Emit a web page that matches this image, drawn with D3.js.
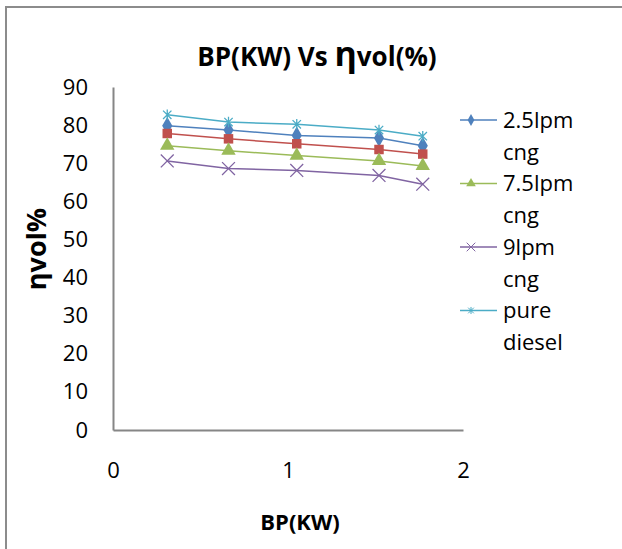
<!DOCTYPE html>
<html>
<head>
<meta charset="utf-8">
<script src="https://cdn.jsdelivr.net/npm/d3@7"></script>
<style>
  body { margin: 0; background: #fff; overflow: hidden; }
  svg { display: block; }
  text { font-family: "Open Sans", sans-serif; fill: #000; }
</style>
</head>
<body>
<svg width="622" height="549"></svg>
<script>
// BP (kW) at each load step
var bp = [0.31, 0.66, 1.05, 1.52, 1.77];

var seriesNames = ["2.5lpm cng", "5lpm cng", "7.5lpm cng", "9lpm cng", "pure diesel"];
var lpm25 = [79.8, 78.7, 77.3, 76.6, 74.6];
var lpm5 = [77.8, 76.4, 75.1, 73.6, 72.4];
var lpm75 = [74.6, 73.3, 72.0, 70.6, 69.3];
var lpm9 = [70.6, 68.6, 68.1, 66.8, 64.5];
var diesel = [82.7, 80.8, 80.2, 78.7, 77.1];

// legend in the original only lists four of the five series
var legendNames = [["2.5lpm", "cng"], ["7.5lpm", "cng"], ["9lpm", "cng"], ["pure", "diesel"]];
var legendIdx = [0, 2, 3, 4];

var xTicks = [0, 1, 2];
var yTicks = [0, 10, 20, 30, 40, 50, 60, 70, 80, 90];

var colors = ["#4F81BD", "#C0504D", "#9BBB59", "#8064A2", "#4BACC6"];

// excel style star: an x with a vertical bar
var symbolStar = {
  draw: function(context, size) {
    var r = Math.sqrt(size) / 2, a = r * 0.8;
    context.moveTo(-a, -a); context.lineTo(a, a);
    context.moveTo(-a, a); context.lineTo(a, -a);
    context.moveTo(0, -r); context.lineTo(0, r);
  }
};
var symbols = [d3.symbolDiamond, d3.symbolSquare, d3.symbolTriangle, d3.symbolTimes, symbolStar];
var hollow = [false, false, false, true, true];

var svg = d3.select("svg");

// chart frame: only the top and left edges fall inside the picture
svg.append("path")
  .attr("d", "M6,549V7H622")
  .attr("fill", "none")
  .attr("stroke", "#8c8c8c")
  .attr("stroke-width", 2);

var x = d3.scaleLinear().domain([0, 2]).range([113, 463]);
var y = d3.scaleLinear().domain([0, 90]).range([430, 87]);

var data = [lpm25, lpm5, lpm75, lpm9, diesel].map(function(vals, i) {
  return {name: seriesNames[i], values: vals.map(function(v, j) { return {x: bp[j], y: v}; })};
});

// axes
svg.append("g")
  .attr("transform", "translate(0,430)")
  .call(d3.axisBottom(x).tickValues(xTicks).tickSize(0).tickPadding(32).tickFormat(d3.format("d")))
  .call(function(g) {
    g.select(".domain").attr("stroke", "#868686").attr("stroke-width", 2);
    g.selectAll("text").attr("font-size", 22).attr("font-family", "Open Sans");
  });

svg.append("g")
  .attr("transform", "translate(113,0)")
  .call(d3.axisLeft(y).tickValues(yTicks).tickSize(0).tickPadding(25))
  .call(function(g) {
    g.select(".domain").attr("stroke", "#868686").attr("stroke-width", 2);
    g.selectAll("text").attr("font-size", 22).attr("font-family", "Open Sans");
  });

var line = d3.line()
  .x(function(d) { return x(d.x); })
  .y(function(d) { return y(d.y); });

var series = svg.append("g").selectAll("g")
  .data(data)
  .enter().append("g");

series.append("path")
  .attr("d", function(d) { return line(d.values); })
  .attr("fill", "none")
  .attr("stroke", function(d, i) { return colors[i]; })
  .attr("stroke-width", 1.5);

series.each(function(s, i) {
  var sym = d3.symbol().type(symbols[i]).size(hollow[i] ? 110 : 90);
  d3.select(this).selectAll(".pt")
    .data(s.values)
    .enter().append("path")
      .attr("class", "pt")
      .attr("transform", function(d) { return "translate(" + x(d.x) + "," + y(d.y) + ")"; })
      .attr("d", sym)
      .attr("fill", hollow[i] ? "none" : colors[i])
      .attr("stroke", colors[i])
      .attr("stroke-width", hollow[i] ? 1.3 : 0);
});

// legend
var legend = svg.append("g").selectAll("g")
  .data(legendIdx)
  .enter().append("g")
    .attr("transform", function(d, k) { return "translate(460," + (120 + k * 63.5) + ")"; });

legend.append("line")
  .attr("x1", 0).attr("x2", 37)
  .attr("stroke", function(d) { return colors[d]; })
  .attr("stroke-width", 1.5);

legend.append("path")
  .attr("transform", "translate(11,0)")
  .attr("d", function(d) { return d3.symbol().type(symbols[d]).size(hollow[d] ? 50 : 40)(); })
  .attr("fill", function(d) { return hollow[d] ? "none" : colors[d]; })
  .attr("stroke", function(d) { return colors[d]; })
  .attr("stroke-width", function(d) { return hollow[d] ? 1 : 0; });

legend.append("text")
  .attr("x", 43)
  .attr("font-size", 22)
  .each(function(d, k) {
    var t = d3.select(this);
    legendNames[k].forEach(function(str, j) {
      t.append("tspan").attr("x", 43).attr("y", j * 32).attr("dy", "0.35em").text(str);
    });
  });

// title
var title = svg.append("text")
  .attr("x", 317).attr("y", 66)
  .attr("text-anchor", "middle")
  .attr("font-weight", "bold")
  .attr("font-size", 26);
title.append("tspan").text("BP(KW) Vs ");
title.append("tspan").attr("font-size", 34).text("η");
title.append("tspan").text("vol(%)");

// axis titles
svg.append("text")
  .attr("x", 300).attr("y", 530)
  .attr("text-anchor", "middle")
  .attr("font-weight", "bold")
  .attr("font-size", 22)
  .text("BP(KW)");

svg.append("text")
  .attr("transform", "translate(46,249) rotate(-90)")
  .attr("text-anchor", "middle")
  .attr("font-weight", "bold")
  .attr("font-size", 27)
  .text("ηvol%");
</script>
</body>
</html>
